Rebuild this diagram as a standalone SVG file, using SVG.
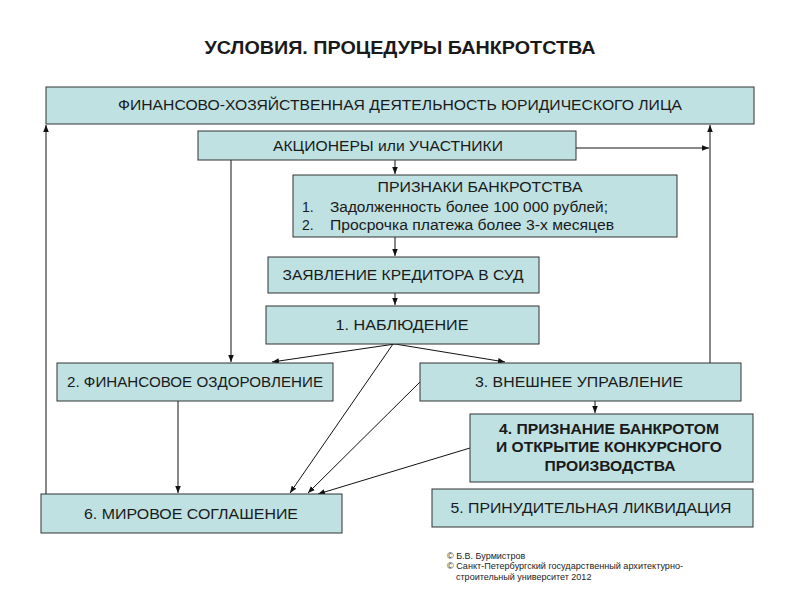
<svg xmlns="http://www.w3.org/2000/svg" width="800" height="600" viewBox="0 0 800 600">
<style>
.b{fill:#bfe1e2;stroke:#333;stroke-width:1}
.t{font-family:"Liberation Sans",Arial,sans-serif;font-size:15px;fill:#1a1a1a;text-anchor:middle}
.s{font-family:"Liberation Sans",Arial,sans-serif;font-size:14px;fill:#1a1a1a}
.bd{font-weight:bold}
.c line,.c path{stroke:#111;stroke-width:1;fill:none}
.f{font-family:"Liberation Sans",Arial,sans-serif;font-size:9px;fill:#222}
</style>
<defs>
<marker id="a" viewBox="0 0 10 10" refX="10" refY="5" markerWidth="7" markerHeight="7" orient="auto" markerUnits="userSpaceOnUse">
<path d="M0,1 L10,5 L0,9 z" fill="#111"/>
</marker>
</defs>
<rect width="800" height="600" fill="#fff"/>
<text x="400" y="54" class="t bd" style="font-size:18px" textLength="391" lengthAdjust="spacingAndGlyphs">УСЛОВИЯ. ПРОЦЕДУРЫ БАНКРОТСТВА</text>

<g class="c">
<line x1="46" y1="494" x2="46" y2="125" marker-end="url(#a)"/>
<line x1="710" y1="363" x2="710" y2="125" marker-end="url(#a)"/>
<line x1="576" y1="148" x2="709" y2="148" marker-end="url(#a)"/>
<line x1="395" y1="160" x2="395" y2="174" marker-end="url(#a)"/>
<line x1="231" y1="160" x2="231" y2="362" marker-end="url(#a)"/>
<line x1="395" y1="237" x2="395" y2="256" marker-end="url(#a)"/>
<line x1="395" y1="293" x2="395" y2="305" marker-end="url(#a)"/>
<line x1="395" y1="344" x2="272" y2="362" marker-end="url(#a)"/>
<line x1="395" y1="344" x2="505" y2="362" marker-end="url(#a)"/>
<line x1="393" y1="344" x2="290" y2="493" marker-end="url(#a)"/>
<line x1="420" y1="382" x2="308" y2="493" marker-end="url(#a)"/>
<line x1="470" y1="448" x2="318" y2="494" marker-end="url(#a)"/>
<line x1="178" y1="401" x2="178" y2="493" marker-end="url(#a)"/>
<line x1="595" y1="401" x2="595" y2="413" marker-end="url(#a)"/>
</g>

<g id="n1"><rect class="b" x="46" y="87" width="708" height="37"/>
<text class="t" x="400" y="110" textLength="564" lengthAdjust="spacingAndGlyphs">ФИНАНСОВО-ХОЗЯЙСТВЕННАЯ ДЕЯТЕЛЬНОСТЬ ЮРИДИЧЕСКОГО ЛИЦА</text></g>
<g id="n2"><rect class="b" x="198" y="131" width="378" height="29"/>
<text class="t" x="388" y="151" textLength="230" lengthAdjust="spacingAndGlyphs">АКЦИОНЕРЫ или УЧАСТНИКИ</text></g>
<g id="n3"><rect class="b" x="293" y="175" width="384" height="62"/>
<text class="t" x="480" y="192" textLength="205" lengthAdjust="spacingAndGlyphs">ПРИЗНАКИ БАНКРОТСТВА</text>
<text class="s" x="302" y="212">1.</text>
<text class="s" x="330" y="212" textLength="278" lengthAdjust="spacingAndGlyphs">Задолженность более 100 000 рублей;</text>
<text class="s" x="302" y="230">2.</text>
<text class="s" x="330" y="230" textLength="284" lengthAdjust="spacingAndGlyphs">Просрочка платежа более 3-х месяцев</text></g>
<g id="n4"><rect class="b" x="268" y="257" width="271" height="36"/>
<text class="t" x="403" y="280" textLength="241" lengthAdjust="spacingAndGlyphs">ЗАЯВЛЕНИЕ КРЕДИТОРА В СУД</text></g>
<g id="n5"><rect class="b" x="266" y="306" width="273" height="38"/>
<text class="t" x="402" y="330" textLength="133" lengthAdjust="spacingAndGlyphs">1. НАБЛЮДЕНИЕ</text></g>
<g id="n6"><rect class="b" x="57" y="363" width="276" height="38"/>
<text class="t" x="195" y="387" textLength="256" lengthAdjust="spacingAndGlyphs">2. ФИНАНСОВОЕ ОЗДОРОВЛЕНИЕ</text></g>
<g id="n7"><rect class="b" x="420" y="363" width="321" height="38"/>
<text class="t" x="579" y="387" textLength="208" lengthAdjust="spacingAndGlyphs">3. ВНЕШНЕЕ УПРАВЛЕНИЕ</text></g>
<g id="n8"><rect class="b" x="470" y="414" width="283" height="68"/>
<text class="t bd" x="609" y="434" textLength="220" lengthAdjust="spacingAndGlyphs">4. ПРИЗНАНИЕ БАНКРОТОМ</text>
<text class="t bd" x="609" y="452" textLength="226" lengthAdjust="spacingAndGlyphs">И ОТКРЫТИЕ КОНКУРСНОГО</text>
<text class="t bd" x="610" y="471" textLength="131" lengthAdjust="spacingAndGlyphs">ПРОИЗВОДСТВА</text></g>
<g id="n9"><rect class="b" x="432" y="489" width="321" height="38"/>
<text class="t" x="591" y="513" textLength="281" lengthAdjust="spacingAndGlyphs">5. ПРИНУДИТЕЛЬНАЯ ЛИКВИДАЦИЯ</text></g>
<g id="n10"><rect class="b" x="41" y="494" width="301" height="39"/>
<text class="t" x="191" y="519" textLength="214" lengthAdjust="spacingAndGlyphs">6. МИРОВОЕ СОГЛАШЕНИЕ</text></g>

<text class="f" x="447" y="559">© Б.В. Бурмистров</text>
<text class="f" x="447" y="569" textLength="236" lengthAdjust="spacingAndGlyphs">© Санкт-Петербургский государственный архитектурно-</text>
<text class="f" x="456" y="580">строительный университет 2012</text>
</svg>
